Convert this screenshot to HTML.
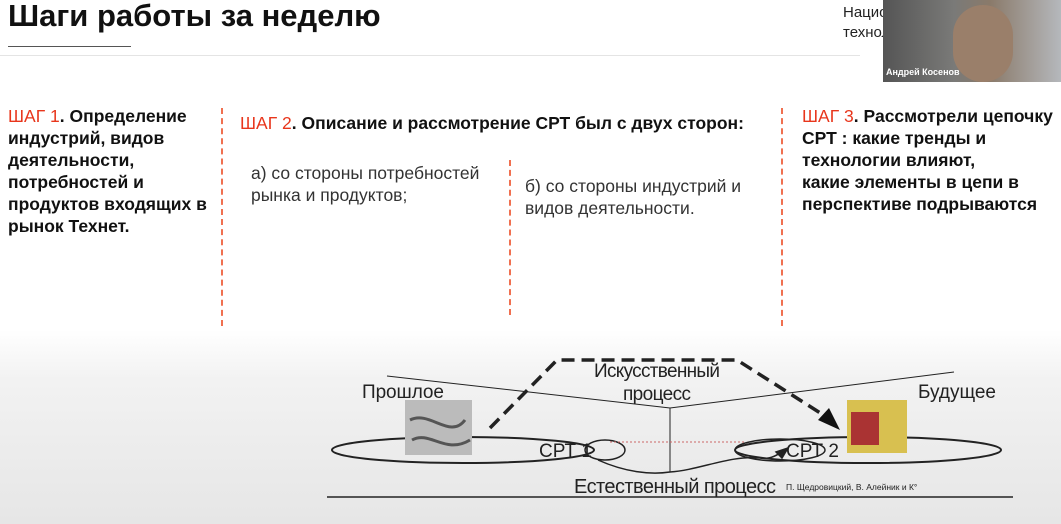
<!DOCTYPE html>
<html><head><meta charset="utf-8"><style>
body{margin:0;width:1061px;height:524px;overflow:hidden;font-family:"Liberation Sans",sans-serif;position:relative;background:linear-gradient(#fff 0,#fff 330px,#f2f2f2 380px,#e6e6e6 524px);}
.a{position:absolute;white-space:nowrap}
.t{font-size:17.5px;font-weight:bold;line-height:22px;color:#111}
.r{color:#e8361c;font-weight:normal}
.dash{position:absolute;width:0;border-left:2px dashed #f07050;}
</style></head><body>
<div class="a" style="left:8px;top:-2px;font-size:31px;font-weight:bold;color:#111">Шаги работы за неделю</div>
<div class="a" style="left:8px;top:46px;width:123px;height:1px;background:#555"></div>
<div class="a" style="left:0;top:55px;width:860px;height:1px;background:#e4e4e4"></div>
<div class="a" style="left:843px;top:3px;font-size:15px;line-height:20px;color:#222">Нацио<br>технол</div>
<div class="a" style="left:883px;top:0;width:178px;height:82px;background:linear-gradient(90deg,#555 0,#7a7a78 40%,#8a7a6a 60%,#b5b8bc 100%)">
<div class="a" style="left:70px;top:5px;width:60px;height:77px;border-radius:30px;background:#9a7f6a"></div>
<div class="a" style="left:3px;top:67px;font-size:9px;font-weight:bold;color:#fff">Андрей Косенов</div></div>
<div class="a t" style="left:8px;top:105px"><span class="r">ШАГ 1</span>. Определение<br>индустрий, видов<br>деятельности,<br>потребностей и<br>продуктов входящих в<br>рынок Технет.</div>
<div class="a t" style="left:240px;top:112px"><span class="r">ШАГ 2</span>. Описание и рассмотрение СРТ был с двух сторон:</div>
<div class="a" style="left:251px;top:162px;font-size:17.5px;line-height:22px;color:#333">а) со стороны потребностей<br>рынка и продуктов;</div>
<div class="a" style="left:525px;top:175px;font-size:17.5px;line-height:22px;color:#333">б) со стороны индустрий и<br>видов деятельности.</div>
<div class="a t" style="left:802px;top:105px"><span class="r">ШАГ 3</span>. Рассмотрели цепочку<br>СРТ : какие тренды и<br>технологии влияют,<br>какие элементы в цепи в<br>перспективе подрываются</div>
<div class="dash" style="left:221px;top:108px;height:218px"></div>
<div class="dash" style="left:509px;top:160px;height:155px"></div>
<div class="dash" style="left:781px;top:108px;height:218px"></div>
<svg class="a" style="left:0;top:0" width="1061" height="524">
<g fill="none" stroke="#222" stroke-width="1.5">
<polyline points="387,376 670,408 954,372" stroke-width="1"/>
<line x1="670" y1="408" x2="670" y2="472" stroke-width="1"/>
<ellipse cx="463" cy="450" rx="131" ry="13" stroke-width="2"/>
<ellipse cx="605" cy="450" rx="20" ry="10"/>
<path d="M598,460 C625,472 650,475 670,472 C700,470 730,455 760,458 C770,460 778,455 784,450" />
<polygon points="776,452 788,448 782,458" fill="#222"/>
<ellipse cx="868" cy="450" rx="133" ry="13" stroke-width="2"/>
<ellipse cx="780" cy="450" rx="45" ry="11"/>
<line x1="327" y1="497" x2="1013" y2="497" stroke-width="1.5"/>
<path d="M490,428 L557,360 L737,360 L825,416" stroke-width="3.5" stroke-dasharray="13,7"/>
</g>
<polygon points="818,420 840,430 829,408" fill="#111"/>
<line x1="610" y1="442" x2="744" y2="442" stroke="#c66" stroke-dasharray="2,2"/>
<rect x="405" y="400" width="67" height="55" fill="#bbb"/>
<path d="M410,420 C430,410 450,440 465,420 M412,440 C430,430 445,455 470,440" stroke="#555" stroke-width="3" fill="none"/>
<rect x="847" y="400" width="60" height="53" fill="#d8c050"/>
<rect x="851" y="412" width="28" height="33" fill="#a33"/>
<g font-family="Liberation Sans,sans-serif" fill="#222" font-size="19">
<text x="362" y="398" textLength="82">Прошлое</text>
<text x="594" y="377" textLength="126">Искусственный</text>
<text x="623" y="400" textLength="68">процесс</text>
<text x="918" y="398" textLength="78">Будущее</text>
<text x="539" y="457">СРТ 1</text>
<text x="786" y="457">СРТ 2</text>
<text x="574" y="493" font-size="20" textLength="202">Естественный процесс</text>
<text x="786" y="490" font-size="8.5">П. Щедровицкий, В. Алейник и К°</text>
</g>
</svg>
</body></html>
